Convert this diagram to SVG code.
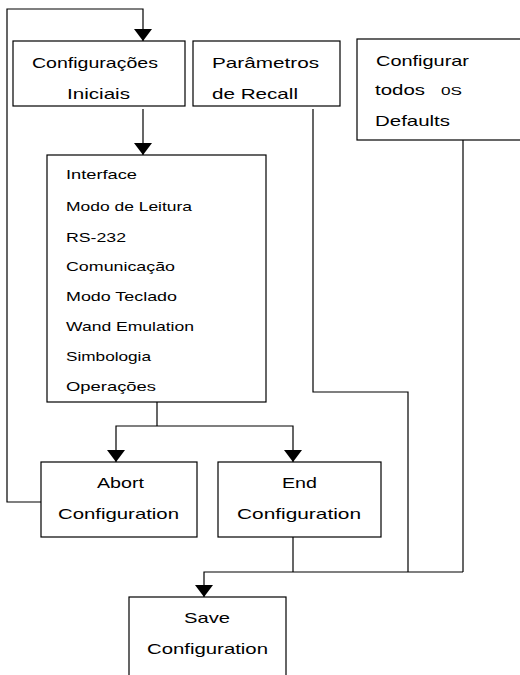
<svg xmlns="http://www.w3.org/2000/svg" width="520" height="675" viewBox="0 0 520 675">
<defs>
<style>
.box{fill:#fff;stroke:#000;stroke-width:1.2}
.c{fill:none;stroke:#000;stroke-width:1.2}
text{font-family:"Liberation Sans",Arial,sans-serif;fill:#000}
.t{font-size:15px}
.s{font-size:13px}
</style>
<marker id="ah" viewBox="0 0 12 18" refX="12" refY="9" markerWidth="12" markerHeight="18" markerUnits="userSpaceOnUse" orient="auto">
<path d="M0,0 L12,9 L0,18 z" fill="#000"/>
</marker>
</defs>
<rect width="520" height="675" fill="#fff"/>
<g id="connectors">
<polyline class="c" points="41,502 7,502 7,9 143,9 143,41" marker-end="url(#ah)"/>
<line class="c" x1="143" y1="109" x2="143" y2="155" marker-end="url(#ah)"/>
<line class="c" x1="157" y1="402" x2="157" y2="426"/>
<polyline class="c" points="157,426 116,426 116,462" marker-end="url(#ah)"/>
<polyline class="c" points="157,426 293,426 293,462" marker-end="url(#ah)"/>
<line class="c" x1="293" y1="537" x2="293" y2="572"/>
<polyline class="c" points="463,572 204,572 204,597" marker-end="url(#ah)"/>
<polyline class="c" points="313,109 313,392 408,392 408,572"/>
<line class="c" x1="463" y1="140" x2="463" y2="572"/>
</g>
<g id="configuracoes-iniciais">
<rect class="box" x="13" y="41" width="172" height="65"/>
<text class="t" x="32" y="68" textLength="126" lengthAdjust="spacingAndGlyphs">Configurações</text>
<text class="t" x="67" y="99" textLength="63" lengthAdjust="spacingAndGlyphs">Iniciais</text>
</g>
<g id="parametros-recall">
<rect class="box" x="193" y="41" width="147" height="65"/>
<text class="t" x="212" y="68" textLength="107" lengthAdjust="spacingAndGlyphs">Parâmetros</text>
<text class="t" x="212" y="99" textLength="86" lengthAdjust="spacingAndGlyphs">de Recall</text>
</g>
<g id="configurar-defaults">
<rect class="box" x="357" y="39" width="170" height="101"/>
<text class="t" x="376" y="66" textLength="93" lengthAdjust="spacingAndGlyphs">Configurar</text>
<text class="t" x="375" y="95" textLength="50" lengthAdjust="spacingAndGlyphs">todos</text>
<text x="441" y="95" font-size="10" textLength="21" lengthAdjust="spacingAndGlyphs">0S</text>
<text class="t" x="375" y="126" textLength="75" lengthAdjust="spacingAndGlyphs">Defaults</text>
</g>
<g id="menu">
<rect class="box" x="47" y="155" width="219" height="247"/>
<text class="s" x="66" y="179" textLength="71" lengthAdjust="spacingAndGlyphs">Interface</text>
<text class="s" x="66" y="211" textLength="126" lengthAdjust="spacingAndGlyphs">Modo de Leitura</text>
<text class="s" x="66" y="242" textLength="60" lengthAdjust="spacingAndGlyphs">RS-232</text>
<text class="s" x="66" y="271" textLength="109" lengthAdjust="spacingAndGlyphs">Comunicação</text>
<text class="s" x="66" y="301" textLength="111" lengthAdjust="spacingAndGlyphs">Modo Teclado</text>
<text class="s" x="66" y="331" textLength="128" lengthAdjust="spacingAndGlyphs">Wand Emulation</text>
<text class="s" x="66" y="361" textLength="85" lengthAdjust="spacingAndGlyphs">Simbologia</text>
<text class="s" x="66" y="391" textLength="90" lengthAdjust="spacingAndGlyphs">Operações</text>
</g>
<g id="abort-configuration">
<rect class="box" x="41" y="462" width="156" height="75"/>
<text class="t" x="97" y="488" textLength="47" lengthAdjust="spacingAndGlyphs">Abort</text>
<text class="t" x="58" y="519" textLength="121" lengthAdjust="spacingAndGlyphs">Configuration</text>
</g>
<g id="end-configuration">
<rect class="box" x="218" y="462" width="163" height="75"/>
<text class="t" x="282" y="488" textLength="35" lengthAdjust="spacingAndGlyphs">End</text>
<text class="t" x="237" y="519" textLength="124" lengthAdjust="spacingAndGlyphs">Configuration</text>
</g>
<g id="save-configuration">
<rect class="box" x="129" y="597" width="157" height="100"/>
<text class="t" x="184" y="623" textLength="46" lengthAdjust="spacingAndGlyphs">Save</text>
<text class="t" x="147" y="654" textLength="121" lengthAdjust="spacingAndGlyphs">Configuration</text>
</g>
</svg>
